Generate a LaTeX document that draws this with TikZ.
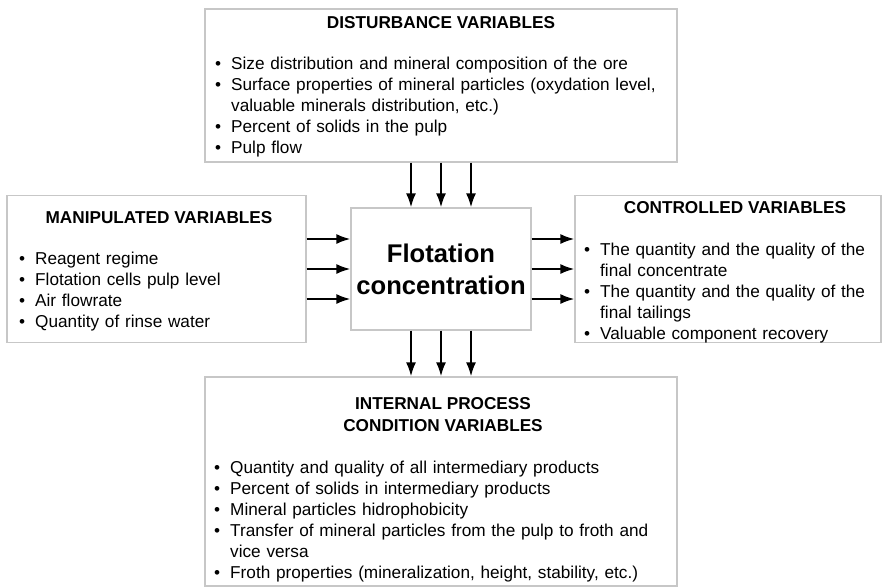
\documentclass[tikz,border=0pt]{standalone}
\usepackage{fontspec}
\setmainfont{Liberation Sans}
\usetikzlibrary{arrows.meta}
\newcommand{\bitem}[1]{\par\hangindent=16pt\hangafter=1\noindent\makebox[16pt][l]{\textbullet}#1}

\begin{document}
\begin{tikzpicture}[x=1pt,y=-1pt,
    box/.style={draw=black!22,line width=1.2pt,inner sep=0pt},
    head/.style={font=\fontsize{17.2}{22}\selectfont\bfseries,align=center,inner sep=0pt},
    lst/.style={font=\fontsize{17.2}{21}\selectfont,anchor=north west,inner sep=0pt,align=left,text width=#1},
    arr/.style={line width=2pt,-{Latex[length=14pt,width=10pt]}}]
    \useasboundingbox (0,0) rectangle (882,587);

    \node[box,minimum width=472pt,minimum height=153pt] (dist) at (441,85.5) {};
    \node[box,minimum width=299pt,minimum height=147pt] (manip) at (156.5,269) {};
    \node[box,minimum width=180pt,minimum height=122pt,font=\fontsize{25.6}{32}\selectfont\bfseries,align=center] (ctr) at (441,269) {Flotation\\concentration};
    \node[box,minimum width=306pt,minimum height=147pt] (ctrl) at (728,269) {};
    \node[box,minimum width=472pt,minimum height=209pt] (intl) at (441,481.5) {};

    \node[head] (distT) at (441,22.5) {DISTURBANCE VARIABLES};
    \node[head] (manipT) at (159,217.5) {MANIPULATED VARIABLES};
    \node[head] (ctrlT) at (735,207.5) {CONTROLLED VARIABLES};
    \node[head] (intlT) at (443,415) {INTERNAL PROCESS\\CONDITION VARIABLES};

    \node[lst=455pt] (distL) at (215,48.4) {%
        \bitem{Size distribution and mineral composition of the ore}%
        \bitem{Surface properties of mineral particles (oxydation level,\newline valuable minerals distribution, etc.)}%
        \bitem{Percent of solids in the pulp}%
        \bitem{Pulp flow}};
    \node[lst=280pt] (manipL) at (19,243.4) {%
        \bitem{Reagent regime}%
        \bitem{Flotation cells pulp level}%
        \bitem{Air flowrate}%
        \bitem{Quantity of rinse water}};
    \node[lst=290pt] (ctrlL) at (584,234.4) {%
        \bitem{The quantity and the quality of the\newline final concentrate}%
        \bitem{The quantity and the quality of the\newline final tailings}%
        \bitem{Valuable component recovery}};
    \node[lst=455pt] (intlL) at (214,452.4) {%
        \bitem{Quantity and quality of all intermediary products}%
        \bitem{Percent of solids in intermediary products}%
        \bitem{Mineral particles hidrophobicity}%
        \bitem{Transfer of mineral particles from the pulp to froth and\newline vice versa}%
        \bitem{Froth properties (mineralization, height, stability, etc.)}};

    \foreach \s in {-30,0,30}{
            \draw[arr] ([xshift=\s pt]dist.south) -- ([xshift=\s pt]ctr.north);
            \draw[arr] ([xshift=\s pt]ctr.south) -- ([xshift=\s pt]intl.north);
            \draw[arr] ([yshift=\s pt]manip.east) -- ([yshift=\s pt]ctr.west);
            \draw[arr] ([yshift=\s pt]ctr.east) -- ([yshift=\s pt]ctrl.west);
        }
\end{tikzpicture}
\end{document}
